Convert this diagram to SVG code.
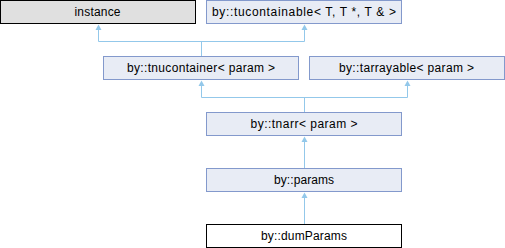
<svg xmlns="http://www.w3.org/2000/svg" width="505" height="248" viewBox="0 0 505 248">
<style>
.box{fill:#e8ecf5;stroke:#8399cc;stroke-width:1}
.ext{fill:#e0e0e0;stroke:#000;stroke-width:1}
.cur{fill:#fff;stroke:#000;stroke-width:1}
.lbl{font-family:"Liberation Sans",Arial,sans-serif;font-size:12px;fill:#000;text-anchor:middle}
.edge{fill:none;stroke:#93c8ea;stroke-width:1}
.head{fill:#93c8ea;stroke:none}
</style>
<rect x="0" y="0" width="505" height="248" fill="#fff"/>
<g id="edges">
<path class="edge" d="M98.5 29V41.5H304.5V29M201.5 41.5V56"/>
<polygon class="head" points="98.5,24.5 95.5,30 101.5,30"/>
<polygon class="head" points="304.5,24.5 301.5,30 307.5,30"/>
<path class="edge" d="M201.5 85V97.5H407.5V85M304.5 97.5V112"/>
<polygon class="head" points="201.5,80.5 198.5,86 204.5,86"/>
<polygon class="head" points="407.5,80.5 404.5,86 410.5,86"/>
<path class="edge" d="M304.5 141V168"/>
<polygon class="head" points="304.5,136.5 301.5,142 307.5,142"/>
<path class="edge" d="M304.5 197V224"/>
<polygon class="head" points="304.5,192.5 301.5,198 307.5,198"/>
</g>
<g id="instance"><rect class="ext" x="0.5" y="0.5" width="195" height="23"/><text class="lbl" x="97.5" y="15.5" textLength="46" lengthAdjust="spacing">instance</text></g>
<g id="tucontainable"><rect class="box" x="206.5" y="0.5" width="195" height="23"/><text class="lbl" x="304" y="15.5" textLength="184" lengthAdjust="spacing">by::tucontainable&lt; T, T *, T &amp; &gt;</text></g>
<g id="tnucontainer"><rect class="box" x="103.5" y="56.5" width="195" height="23"/><text class="lbl" x="201" y="71.5" textLength="148" lengthAdjust="spacing">by::tnucontainer&lt; param &gt;</text></g>
<g id="tarrayable"><rect class="box" x="309.5" y="56.5" width="195" height="23"/><text class="lbl" x="406.5" y="71.5" textLength="135" lengthAdjust="spacing">by::tarrayable&lt; param &gt;</text></g>
<g id="tnarr"><rect class="box" x="206.5" y="112.5" width="195" height="23"/><text class="lbl" x="304" y="127.5" textLength="107" lengthAdjust="spacing">by::tnarr&lt; param &gt;</text></g>
<g id="params"><rect class="box" x="206.5" y="168.5" width="195" height="23"/><text class="lbl" x="304" y="183.5" textLength="60" lengthAdjust="spacing">by::params</text></g>
<g id="dumParams"><rect class="cur" x="206.5" y="224.5" width="195" height="23"/><text class="lbl" x="304" y="239.5" textLength="86" lengthAdjust="spacing">by::dumParams</text></g>
</svg>
